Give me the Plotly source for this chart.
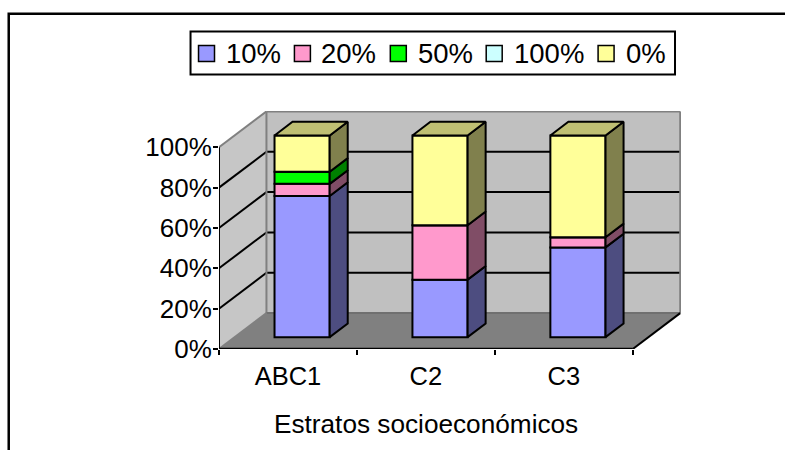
import plotly.graph_objects as go

categories = ["ABC1", "C2", "C3"]
series_names = ["10%", "20%", "50%", "100%", "0%"]
values_10 = [70, 28.5, 44.5]
values_20 = [6, 27, 5]
values_50 = [6, 0, 0]
values_100 = [0, 0, 0]
values_0 = [18, 44.5, 50.5]
all_values = [values_10, values_20, values_50, values_100, values_0]

face_colors = ["#9999FF", "#FF99CC", "#00FF00", "#CCFFFF", "#FFFF99"]
side_colors = ["#4D4D80", "#804D66", "#008000", "#668080", "#80804D"]
top_color = "#BFBF73"
y_ticks = [0, 20, 40, 60, 80, 100]

W, H = 785, 450
L, R, T, B = 218.5, 681.0, 110.7, 349.5
X_UNIT = 138.07
Y_UNIT = 2.024
DX = 47.5 / X_UNIT
DY = 36.0 / Y_UNIT
BAR_W = 0.40
D0, D1 = 0.33, 0.71

def px(x):
    return (x - L) / (R - L)

def py(y):
    return (B - y) / (B - T)

def poly(pts):
    return "M" + "L".join(f"{a},{b}" for a, b in pts) + "Z"

shapes = []
def wall(pts, fill):
    shapes.append(dict(type="path", path=poly(pts), xref="x", yref="y", fillcolor=fill,
                       line=dict(width=0), layer="below"))
def seg(x0, y0, x1, y1, color="#000000", width=2):
    shapes.append(dict(type="line", x0=x0, y0=y0, x1=x1, y1=y1, xref="x", yref="y",
                       line=dict(color=color, width=width), layer="below"))

n = len(categories)
wall([(DX, DY), (n + DX, DY), (n + DX, 100 + DY), (DX, 100 + DY)], "#C0C0C0")
wall([(0, 0), (0, 100), (DX, 100 + DY), (DX, DY)], "#C6C6C6")
wall([(0, 0), (n, 0), (n + DX, DY), (DX, DY)], "#808080")
for v in y_ticks[1:-1]:
    seg(0, v, DX, v + DY)
    seg(DX, v + DY, n + DX, v + DY)
seg(0, 100, DX, 100 + DY, "#808080")
seg(DX, 100 + DY, n + DX, 100 + DY, "#808080")
seg(n + DX, 100 + DY, n + DX, DY, "#808080")
seg(DX, 100 + DY, DX, DY, "#808080")
seg(DX, DY, n + DX, DY, "#707070")
seg(0, 0, DX, DY, "#808080")
seg(0, 0, 0, 100)
seg(0, 0, n, 0, "#000000", 2.5)
seg(n, 0, n + DX, DY)

fig = go.Figure()
shift_x = D0 * DX - 0.011
shift_y = D0 * DY
span = D1 - D0

base = [shift_y] * n
for name, vals, fc, sc in zip(series_names, all_values, face_colors, side_colors):
    xs = [i + 0.5 + shift_x for i in range(n)]
    fig.add_trace(go.Bar(x=xs, y=vals, base=list(base), width=BAR_W, marker=dict(color=fc, line=dict(color="#000000", width=2)),
                         showlegend=False, name=name, hoverinfo="skip"))
    for i, v in enumerate(vals):
        if v <= 0:
            continue
        xr = xs[i] + BAR_W / 2
        sx, sy = span * DX, span * DY
        b = base[i]
        fig.add_trace(go.Scatter(
            x=[xr, xr + sx, xr + sx, xr, xr], y=[b, b + sy, b + v + sy, b + v, b],
            mode="lines", fill="toself", fillcolor=sc, line=dict(color="#000000", width=2),
            showlegend=False, hoverinfo="skip"))
    base = [b + v for b, v in zip(base, vals)]

for i in range(n):
    xl = i + 0.5 + shift_x - BAR_W / 2
    xr = xl + BAR_W
    top = base[i]
    sx, sy = span * DX, span * DY
    fig.add_trace(go.Scatter(
        x=[xl, xr, xr + sx, xl + sx, xl], y=[top, top, top + sy, top + sy, top],
        mode="lines", fill="toself", fillcolor=top_color, line=dict(color="#000000", width=2),
        showlegend=False, hoverinfo="skip"))

FONT = "Liberation Sans, Arial, sans-serif"
frame_x0, frame_x1, frame_y0, frame_y1 = 8, 790, 13, 455
shapes.append(dict(type="path", xref="paper", yref="paper",
                   path=f"M{px(frame_x0)},{py(frame_y1)}L{px(frame_x0)},{py(frame_y0)}L{px(frame_x1)},{py(frame_y0)}",
                   line=dict(color="#000000", width=2.5), layer="below"))

# legend box, swatches and labels
annotations = [dict(text="Estratos socioeconómicos", x=n / 2, xref="x", y=py(425), yref="paper",
                    xanchor="center", yanchor="middle", showarrow=False, font=dict(size=26.2))]
shapes.append(dict(type="rect", xref="paper", yref="paper", x0=px(190), x1=px(675), y0=py(31), y1=py(74),
                   line=dict(color="#000000", width=2), fillcolor="#FFFFFF"))
swatch_centres = [206, 302, 398, 494, 606]
label_starts = [225, 320, 416.5, 513, 625]
for name, fc, cx, tx in zip(series_names, face_colors, swatch_centres, label_starts):
    shapes.append(dict(type="rect", xref="paper", yref="paper", x0=px(cx - 8), x1=px(cx + 8),
                       y0=py(53 - 8), y1=py(53 + 8), fillcolor=fc, line=dict(color="#000000", width=1.5)))
    annotations.append(dict(text=name, x=px(tx), xref="paper", y=py(53.5), yref="paper", xanchor="left",
                            yanchor="middle", showarrow=False, borderpad=0, font=dict(size=27.5)))

fig.update_layout(
    width=W, height=H, barmode="overlay", paper_bgcolor="#FFFFFF", plot_bgcolor="rgba(0,0,0,0)",
    margin=dict(l=L, r=W - R, t=T, b=H - B, pad=0, autoexpand=False),
    font=dict(family=FONT, size=25, color="#000000"),
    showlegend=False,
    shapes=shapes,
    annotations=annotations,
    xaxis=dict(range=[0, (R - L) / X_UNIT], tickmode="array",
               tickvals=[i + 0.5 for i in range(n)], ticktext=categories, ticks="", showgrid=False,
               zeroline=False, showline=False, ticklabelstandoff=9, tickfont=dict(size=25.5),
               minor=dict(tickmode="array", tickvals=list(range(n + 1)), ticks="outside", ticklen=5,
                          tickwidth=1.5, tickcolor="#000000", showgrid=False)),
    yaxis=dict(range=[0, (B - T) / Y_UNIT], tickmode="array", tickvals=y_ticks,
               ticktext=[f"{v}%" for v in y_ticks], ticks="outside", ticklen=5, tickwidth=1.5,
               tickcolor="#000000", showgrid=False, zeroline=False, showline=False, ticklabelstandoff=-4,
               tickfont=dict(size=26)),
)
fig.write_html("out.html", post_script="document.body.style.margin='0';", config={"displayModeBar": False})
